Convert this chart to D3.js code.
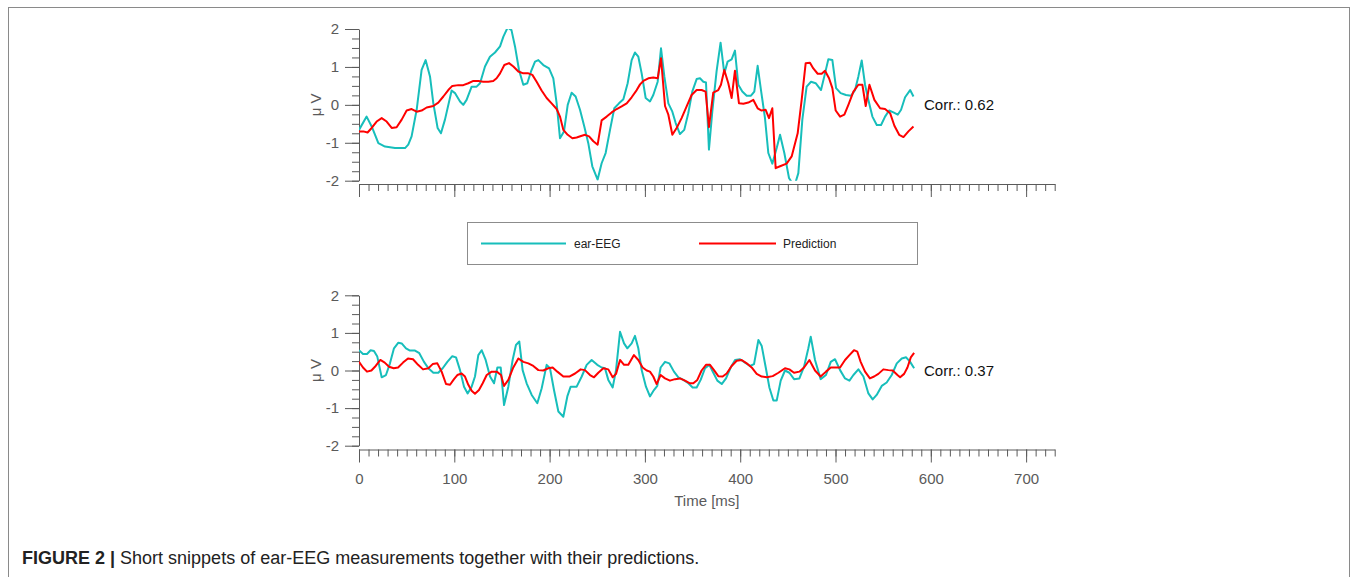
<!DOCTYPE html>
<html>
<head>
<meta charset="utf-8">
<script src="https://cdn.jsdelivr.net/npm/d3@7"></script>
<style>
  body { margin: 0; background: #fff; }
  svg { display: block; font-family: "Liberation Sans", Arial, Helvetica, sans-serif; }
</style>
</head>
<body>
<svg id="fig" width="1358" height="577"></svg>
<script>
// Time axis ticks (ms) and voltage ticks (µV)
const timeTicks = [0, 100, 200, 300, 400, 500, 600, 700];
const voltTicks = [-2, -1, 0, 1, 2];
const seriesNames = ["ear-EEG", "Prediction"];
const corrLabels = ["Corr.: 0.62", "Corr.: 0.37"];

// Snippet 1: [time ms, µV]
const topEeg = [[0,-0.66],[8,-0.31],[13.3,-0.57],[20.3,-1.01],[27.3,-1.10],[37.8,-1.14],[48.3,-1.14],[51.7,-1.05],[55.2,-0.83],[60.5,-0.13],[65.7,0.92],[69.9,1.18],[74.5,0.75],[78,0.04],[82.5,-0.61],[86,-0.75],[90.2,-0.39],[97.2,0.38],[100.7,0.31],[106,0.09],[109.4,0.00],[112.9,0.13],[118.2,0.48],[123.4,0.48],[127,0.57],[132.2,1.01],[137.4,1.27],[142.7,1.38],[148,1.54],[151.5,1.80],[156,2.04],[160,1.97],[163.7,1.54],[167.9,0.92],[172.4,0.53],[176.6,0.57],[180.5,0.88],[184.7,1.14],[188.2,1.18],[193.4,1.05],[199.4,0.96],[203.9,0.70],[207.4,0.04],[210.9,-0.88],[215.1,-0.70],[219,0.00],[223.1,0.32],[227.3,0.22],[231.9,-0.13],[236.4,-0.57],[240.6,-1.01],[244.8,-1.62],[250.4,-1.97],[254.6,-1.54],[258.8,-1.27],[263.4,-0.66],[267.9,-0.09],[272.8,0.04],[277.4,0.15],[281.9,0.57],[286.1,1.18],[289.6,1.38],[293.1,1.27],[296.6,0.83],[300.8,0.18],[305.3,0.09],[308.8,0.26],[313.4,0.61],[316.9,1.49],[320.4,0.75],[324.6,0.04],[328.8,-0.18],[332.3,-0.48],[336.8,-0.77],[341.3,-0.66],[345.5,-0.22],[349.7,0.35],[354.3,0.68],[357.8,0.70],[361.3,0.61],[364.1,0.59],[367.2,-1.18],[370.7,-0.18],[375.2,0.88],[379.4,1.64],[383.3,0.83],[386.8,1.14],[391,1.20],[394.5,1.43],[398,0.53],[402.2,0.35],[406.8,0.24],[411.3,0.24],[414.8,0.35],[418.3,1.03],[421.8,0.39],[426,-0.35],[429.5,-1.27],[433.7,-1.55],[438.3,-1.14],[441.8,-0.79],[446.3,-1.27],[451.2,-1.93],[456.8,-2.15],[461,-1.80],[465.2,-0.39],[469.7,0.48],[474.3,0.61],[479.2,0.57],[484.8,0.39],[489,0.83],[492.5,1.20],[496.7,1.18],[500.6,0.44],[505.4,0.31],[511,0.26],[516.3,0.24],[520.5,0.39],[524,0.75],[527.5,1.17],[531,0.53],[534.5,0.13],[538.7,-0.31],[543.3,-0.53],[547.8,-0.53],[552,-0.31],[556.2,-0.15],[560.8,-0.20],[565.3,-0.26],[568.8,-0.13],[573,0.20],[578.3,0.39],[581.8,0.22]];
const topPred = [[0,-0.70],[4.5,-0.70],[9,-0.73],[13.3,-0.61],[18.5,-0.44],[23.8,-0.35],[29,-0.44],[34.3,-0.61],[39.5,-0.59],[44.8,-0.39],[50,-0.15],[55.2,-0.11],[60.5,-0.18],[65.7,-0.15],[71,-0.07],[78,-0.03],[83.2,0.06],[88.5,0.22],[93.7,0.39],[97.9,0.50],[104.2,0.52],[109.4,0.52],[114.7,0.57],[120,0.63],[125.2,0.63],[130.4,0.61],[135.7,0.61],[140.9,0.63],[144.4,0.70],[148,0.83],[152.5,1.05],[157.4,1.10],[162,1.01],[167.2,0.88],[172.4,0.83],[177.7,0.83],[181.9,0.79],[186.4,0.61],[191.6,0.38],[196.9,0.18],[202.1,0.04],[207.4,-0.11],[210.9,-0.31],[214.4,-0.66],[219,-0.79],[223.9,-0.88],[228.4,-0.86],[233,-0.82],[237.2,-0.79],[241.4,-0.83],[245.9,-0.96],[250.4,-1.05],[254.6,-0.41],[259.9,-0.31],[265.1,-0.20],[270.4,-0.11],[275.6,-0.04],[280.9,0.04],[286.1,0.20],[291.4,0.39],[294.9,0.54],[298.4,0.63],[303.6,0.70],[308.8,0.72],[313.4,0.70],[316.9,1.23],[321.1,-0.03],[324.6,-0.26],[328.8,-0.79],[333.3,-0.61],[338.5,-0.35],[343.8,-0.04],[349,0.26],[354.3,0.39],[359.5,0.39],[363.7,0.35],[367.2,-0.59],[371.7,0.32],[377,0.39],[379.8,0.53],[383.3,0.92],[387.5,0.57],[391,0.18],[394.5,0.90],[398.7,0.04],[403.3,0.03],[408.5,0.06],[413.8,0.13],[418.3,-0.09],[422.5,-0.15],[426.7,-0.13],[430.2,-0.35],[433.7,-0.09],[437.2,-1.67],[441.8,-1.62],[448.7,-1.55],[454,-1.36],[460.3,-0.75],[464.5,0.13],[468.7,1.10],[473.2,1.11],[476.7,0.96],[481.3,0.82],[485.5,0.82],[489,0.90],[493.2,0.70],[496.7,0.44],[500.2,-0.15],[504.8,-0.31],[509.3,-0.26],[513.5,0.00],[518.8,0.35],[524,0.53],[528.2,0.53],[531.7,-0.03],[535.6,0.53],[540.8,0.13],[546.8,-0.09],[552,-0.11],[557.3,-0.22],[561.8,-0.55],[566.8,-0.79],[571.3,-0.85],[576.5,-0.70],[581.8,-0.57]];

// Snippet 2: [time ms, µV]
const bottomEeg = [[0,0.54],[4.2,0.44],[8.4,0.44],[12.2,0.54],[15.7,0.52],[19.2,0.37],[23.8,-0.18],[28.3,-0.12],[32.5,0.19],[36.7,0.59],[41.3,0.74],[44.8,0.72],[49.3,0.59],[53.5,0.53],[58.8,0.53],[63.3,0.46],[68.2,0.23],[72.8,0.06],[78,-0.06],[83.2,-0.06],[87.8,0.06],[92.7,0.23],[97.9,0.38],[101.8,0.35],[106,0.01],[110.2,-0.43],[114,-0.61],[118.2,-0.43],[121.7,-0.16],[125.2,0.41],[128.7,0.54],[132.9,0.28],[137.5,-0.16],[141.7,-0.34],[145.2,0.08],[148.7,0.08],[152.2,-0.92],[156.7,-0.43],[161.2,0.28],[164.7,0.68],[168.2,0.77],[171.7,0.01],[175.9,-0.34],[181.2,-0.65],[187.1,-0.87],[191.7,-0.47],[196.9,0.15],[200.4,0.06],[204.6,-0.52],[209.2,-1.09],[214.4,-1.23],[218.6,-0.69],[222.1,-0.43],[228.4,-0.43],[233.7,-0.16],[238.9,0.15],[244.1,0.28],[250,0.15],[254.6,0.08],[258.1,0.06],[261.6,-0.25],[266.2,-0.45],[269.7,0.01],[273.9,1.03],[278.1,0.72],[281.6,0.59],[286.1,0.72],[289.6,0.92],[293.1,0.59],[296.6,0.01],[301.1,-0.43],[305.3,-0.69],[309.5,-0.52],[313,-0.41],[316.5,0.08],[321.1,0.23],[325.6,0.19],[330.5,-0.03],[335.1,-0.18],[340.3,-0.25],[345.6,-0.34],[350.1,-0.45],[354.3,-0.45],[358.5,-0.25],[363.1,0.06],[367.6,0.15],[371.8,-0.06],[376,-0.27],[380.6,-0.36],[385.1,-0.21],[390,0.08],[394.6,0.28],[399.8,0.30],[405.1,0.21],[410.3,0.12],[414.5,0.17],[419.1,0.81],[422.6,0.65],[426.8,0.08],[430.6,-0.45],[434.8,-0.80],[438.3,-0.80],[442.5,-0.27],[447,0.00],[451.6,-0.06],[456.5,-0.23],[462.1,-0.21],[467,0.10],[471.5,0.59],[474,0.90],[478.5,0.28],[484.4,-0.23],[490,-0.12],[495,0.23],[499.5,0.30],[504.8,0.01],[510,-0.21],[514.6,-0.27],[518.8,-0.12],[524,0.03],[529.3,-0.16],[534.5,-0.61],[539,-0.77],[543.2,-0.65],[548.5,-0.41],[553.7,-0.32],[559,-0.12],[564.3,0.19],[569.5,0.32],[574.1,0.35],[578.3,0.23],[582.5,0.06]];
const bottomPred = [[0,0.23],[4.2,0.08],[8.4,-0.03],[13,0.00],[17.5,0.12],[22.4,0.28],[27,0.21],[31.5,0.10],[36.4,0.06],[41,0.08],[46.2,0.21],[51.4,0.32],[56.7,0.30],[62,0.15],[67.2,0.03],[72.8,0.06],[77.3,0.17],[82.2,0.19],[86.7,-0.03],[91.3,-0.36],[95.5,-0.38],[99.7,-0.23],[103.2,-0.12],[107.7,-0.08],[111.2,-0.16],[114.7,-0.38],[118.2,-0.54],[121.7,-0.62],[125.9,-0.52],[129.8,-0.34],[134,-0.12],[139.2,-0.03],[144.5,-0.03],[149,-0.12],[152.2,-0.41],[156.7,-0.25],[161.9,0.08],[167.2,0.32],[172.4,0.23],[177.7,0.19],[182.9,0.12],[188.2,0.01],[193.4,0.00],[198.6,0.06],[203.2,0.08],[208.1,-0.03],[214.4,-0.16],[220.7,-0.16],[226.7,-0.08],[232.6,0.03],[237.1,0.01],[242.4,-0.12],[246.6,-0.18],[251.1,-0.06],[256.4,0.06],[261.6,0.03],[266.2,-0.18],[269.7,-0.09],[273.9,0.28],[278.1,0.15],[282.6,0.15],[288.5,0.41],[293.1,0.28],[297.6,0.08],[301.9,0.00],[305.3,-0.03],[308.8,-0.16],[312.3,-0.36],[316.5,-0.12],[321.1,-0.21],[326.3,-0.27],[331.6,-0.23],[336.8,-0.21],[342.1,-0.27],[347.3,-0.34],[350.8,-0.34],[355,-0.25],[359.5,0.00],[364.1,0.15],[368.3,0.15],[372.5,0.01],[377,-0.15],[381.6,-0.16],[385.8,-0.08],[391,0.12],[396.3,0.26],[401.5,0.28],[406.8,0.19],[412,0.08],[417.3,-0.09],[422.6,-0.16],[427.9,-0.18],[434.1,-0.15],[440.1,-0.06],[447,0.06],[451.6,0.03],[456.5,-0.06],[462.1,-0.03],[467,0.08],[472.6,0.28],[478.5,0.00],[484.4,-0.16],[490,-0.03],[495,0.08],[499.5,0.08],[504.8,0.08],[510,0.28],[514.6,0.41],[519.4,0.54],[522.9,0.50],[526.4,0.23],[531,-0.03],[536.1,-0.21],[540.5,-0.16],[545,-0.09],[550.2,0.03],[555.5,0.01],[560,0.00],[565,-0.12],[567.8,-0.18],[572,-0.09],[575.5,0.08],[579,0.35],[582.5,0.47]];

const svg = d3.select("#fig");
const axisColor = "#5a5a5a";
const lineColors = ["#17bebb", "#ff0000"];

// outer figure frame (open at the bottom edge of the view)
svg.append("rect").attr("x", 8.5).attr("y", 7.5).attr("width", 1341).attr("height", 600)
  .attr("fill", "#fff").attr("stroke", "#8a8a8a").attr("stroke-width", 1);

const x = d3.scaleLinear().domain([0, 730]).range([359, 1054.7]);

const panels = [
  { series: [topEeg, topPred], yRange: [180.7, 29], xAxisY: 184, showTimeLabels: false, corr: corrLabels[0] },
  { series: [bottomEeg, bottomPred], yRange: [445.7, 295.3], xAxisY: 449.5, showTimeLabels: true, corr: corrLabels[1] }
];

panels.forEach((p, i) => {
  const y = d3.scaleLinear().domain([-2, 2]).range(p.yRange);
  const g = svg.append("g");

  const clipId = "clip" + i;
  svg.append("clipPath").attr("id", clipId).append("rect")
    .attr("x", x(0)).attr("y", y(2)).attr("width", x(730) - x(0)).attr("height", y(-2) - y(2));

  // y axis: minor then major ticks
  g.append("g").attr("transform", `translate(${x(0)},0)`)
    .call(d3.axisLeft(y).tickValues(d3.range(-2, 2.001, 0.25)).tickSize(7).tickSizeOuter(0).tickFormat(""));
  const yMajor = g.append("g").attr("transform", `translate(${x(0)},0)`)
    .call(d3.axisLeft(y).tickValues(voltTicks).tickSize(14).tickSizeOuter(0).tickPadding(6).tickFormat(d => String(d)));
  yMajor.select(".domain").remove();

  // x axis
  g.append("g").attr("transform", `translate(0,${p.xAxisY})`)
    .call(d3.axisBottom(x).tickValues(d3.range(0, 730.1, 10)).tickSize(7).tickSizeOuter(0).tickFormat(""));
  const xMajor = g.append("g").attr("transform", `translate(0,${p.xAxisY})`)
    .call(d3.axisBottom(x).tickValues(timeTicks).tickSize(13).tickSizeOuter(0).tickPadding(11)
      .tickFormat(p.showTimeLabels ? (d => String(d)) : ""));
  xMajor.select(".domain").remove();

  g.selectAll(".domain, .tick line").attr("stroke", axisColor).attr("stroke-width", 1);
  g.selectAll(".tick text").attr("fill", axisColor).attr("font-size", 15)
    .attr("font-family", "\"Liberation Sans\", Arial, sans-serif");

  // y label
  g.append("text")
    .attr("transform", `translate(321,${y(0)}) rotate(-90)`)
    .attr("text-anchor", "middle").attr("fill", axisColor).attr("font-size", 15)
    .text("μ V");

  // traces
  const line = d3.line().x(d => x(d[0])).y(d => y(d[1]));
  const traces = g.append("g").attr("clip-path", `url(#${clipId})`);
  p.series.forEach((s, k) => {
    traces.append("path").datum(s).attr("d", line)
      .attr("fill", "none").attr("stroke", lineColors[k]).attr("stroke-width", 2)
      .attr("stroke-linejoin", "round");
  });

  // correlation annotation
  g.append("text").attr("x", 924).attr("y", y(0)).attr("dy", "0.35em")
    .attr("fill", "#111").attr("font-size", 15).text(p.corr);

  if (p.showTimeLabels) {
    g.append("text").attr("x", (x(0) + x(730)) / 2).attr("y", 506)
      .attr("text-anchor", "middle").attr("fill", axisColor).attr("font-size", 15)
      .text("Time [ms]");
  }
});

// legend
const legend = svg.append("g");
legend.append("rect").attr("x", 467.5).attr("y", 222.5).attr("width", 450).attr("height", 42)
  .attr("fill", "#fff").attr("stroke", "#8c8c8c").attr("stroke-width", 1);
const legendItems = [
  { x0: 481, x1: 566, tx: 574 },
  { x0: 699, x1: 776, tx: 783 }
];
legendItems.forEach((it, k) => {
  legend.append("line").attr("x1", it.x0).attr("x2", it.x1).attr("y1", 243.5).attr("y2", 243.5)
    .attr("stroke", lineColors[k]).attr("stroke-width", 2);
  legend.append("text").attr("x", it.tx).attr("y", 243.5).attr("dy", "0.35em")
    .attr("fill", "#222").attr("font-size", 12).text(seriesNames[k]);
});

// caption
const cap = svg.append("text").attr("x", 22).attr("y", 564).attr("font-size", 18).attr("fill", "#222");
cap.append("tspan").attr("font-weight", "bold").text("FIGURE 2 | ");
cap.append("tspan").text("Short snippets of ear-EEG measurements together with their predictions.");
</script>
</body>
</html>
